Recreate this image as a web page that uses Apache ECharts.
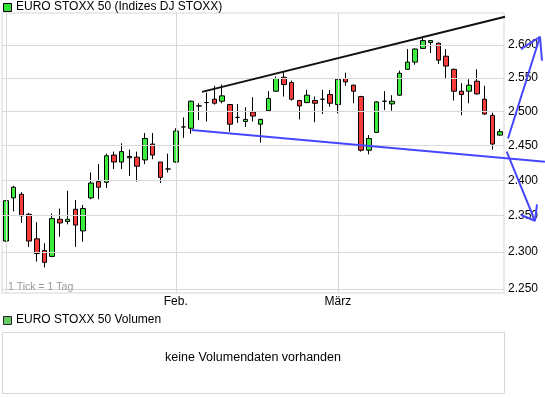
<!DOCTYPE html>
<html>
<head>
<meta charset="utf-8">
<script src="https://cdn.jsdelivr.net/npm/echarts@6/dist/echarts.min.js"></script>
<style>
html,body{margin:0;padding:0;background:#fff;}
#c{width:545px;height:398px;}
</style>
</head>
<body>
<div id="c"></div>
<script>
// ---- data ----
const categories = [
 '02.01.','03.01.','04.01.','05.01.','06.01.','09.01.','10.01.','11.01.','12.01.','13.01.','16.01.','17.01.','18.01.','19.01.','20.01.','23.01.','24.01.','25.01.','26.01.','27.01.','30.01.','31.01.',
 '01.02.','02.02.','03.02.','06.02.','07.02.','08.02.','09.02.','10.02.','13.02.','14.02.','15.02.','16.02.','17.02.','20.02.','21.02.','22.02.','23.02.','24.02.','27.02.','28.02.','29.02.',
 '01.03.','02.03.','05.03.','06.03.','07.03.','08.03.','09.03.','12.03.','13.03.','14.03.','15.03.','16.03.','19.03.','20.03.','21.03.','22.03.','23.03.','26.03.','27.03.','28.03.','29.03.','30.03.'
];
const openVals  = [2315,2375,2380,2352,2318,2302,2294,2345,2342,2359,2329,2375,2398,2397,2436,2426,2434,2433,2429,2452,2426,2416,2426,2477,2475,2508,2513,2518,2515,2510,2491,2485,2499,2481,2501,2530,2551,2543,2516,2513,2516,2518,2525,2510,2549,2539,2522,2443,2469,2515,2511,2524,2563,2574,2595,2604,2603,2583,2563,2530,2530,2545,2518,2494,2465];
const closeVals = [2371,2390,2350,2315,2298,2286,2346,2340,2345,2337,2360,2396,2390,2435,2426,2441,2432,2420,2460,2436,2404,2416,2471,2477,2515,2508,2513,2512,2523,2481,2491,2488,2493,2488,2519,2549,2540,2518,2508,2524,2512,2518,2512,2548,2544,2530,2443,2460,2514,2515,2515,2557,2574,2594,2607,2607,2577,2568,2530,2525,2539,2526,2496,2452,2470];
const lowVals   = [2314,2356,2340,2307,2287,2279,2293,2321,2338,2307,2314,2373,2373,2389,2416,2416,2406,2398,2423,2430,2396,2411,2425,2461,2467,2487,2485,2510,2512,2470,2483,2477,2485,2454,2500,2529,2522,2516,2488,2512,2484,2496,2507,2497,2538,2512,2441,2437,2468,2502,2501,2523,2562,2570,2594,2588,2571,2549,2516,2494,2512,2525,2495,2444,2464];
const highVals  = [2372,2392,2383,2354,2341,2312,2353,2360,2385,2372,2365,2411,2423,2438,2441,2453,2444,2441,2468,2468,2426,2438,2475,2491,2516,2512,2528,2538,2540,2511,2511,2506,2521,2489,2530,2552,2559,2546,2517,2532,2522,2532,2532,2549,2558,2540,2523,2465,2515,2530,2524,2561,2594,2595,2612,2608,2604,2594,2564,2542,2548,2563,2538,2498,2474];

const yTicks = [2250, 2300, 2350, 2400, 2450, 2500, 2550, 2600];
const monthStartIdx = [0, 22, 43];
const monthNames = ['', 'Feb.', 'März'];

// drawn annotations (x = trading-day index, y = index points)
const resistanceLine = [[25.4, 2529], [64.63, 2644]];
const supportLine    = [[24.06, 2472.5], [69.8, 2426.5]];
const arrowUp        = [[65.02, 2460], [69.16, 2613]];
const arrowUpHead    = [[66.70, 2594], [69.16, 2613], [69.42, 2576]];
const arrowDown      = [[64.85, 2441], [68.51, 2343]];
const arrowDownHead  = [[66.70, 2351], [68.51, 2343], [68.77, 2366]];

// ---- chart ----
const FONT = 'Liberation Sans, Arial, sans-serif';
const candleData = openVals.map((o, i) => [o, closeVals[i], lowVals[i], highVals[i]]);
const fmt = v => String(Math.round(v)).replace(/(\d)(\d{3})$/, '$1.$2');

const Y_MIN = 2244.8, Y_MAX = 2650;
const PLOT_W = 502, N = categories.length;
const ANNOT_W = 543;
const annotXMax = -0.5 + ANNOT_W * N / PLOT_W;

const gridLines = [];
yTicks.forEach(v => gridLines.push({ yAxis: v, label: { show: true, formatter: fmt(v) } }));
monthStartIdx.forEach(i => gridLines.push({ xAxis: i, label: { show: false } }));

function annot(data, color) {
  return {
    type: 'line', xAxisIndex: 2, yAxisIndex: 1, data: data,
    symbol: 'none', clip: false, silent: true, z: 5,
    lineStyle: { color: color, width: 2 }, animation: false
  };
}

const chart = echarts.init(document.getElementById('c'), null, { renderer: 'canvas' });
chart.setOption({
  backgroundColor: '#ffffff',
  animation: false,
  textStyle: { fontFamily: FONT },
  grid: [
    { left: 2, top: 13, width: PLOT_W, height: 280, show: true, borderColor: '#d6d6d6', borderWidth: 1, backgroundColor: '#fff' },
    { left: 2, top: 13, width: ANNOT_W, height: 280, show: false }
  ],
  xAxis: [
    {
      type: 'category', data: categories, boundaryGap: true, gridIndex: 0,
      axisLine: { show: false }, axisTick: { show: false }, splitLine: { show: false },
      axisLabel: {
        interval: (idx) => monthStartIdx.indexOf(idx) >= 0 && monthNames[monthStartIdx.indexOf(idx)] !== '',
        formatter: (val, idx) => { const k = monthStartIdx.indexOf(idx); return k >= 0 ? monthNames[k] : ''; },
        color: '#000', fontSize: 12, fontFamily: FONT, margin: 3, hideOverlap: false
      }
    },
    { type: 'value', gridIndex: 0, min: -0.5, max: N - 0.5, show: false },
    { type: 'value', gridIndex: 1, min: -0.5, max: annotXMax, show: false }
  ],
  yAxis: [
    {
      type: 'log', logBase: 10, min: Y_MIN, max: Y_MAX, gridIndex: 0,
      axisLine: { show: false }, axisTick: { show: false }, axisLabel: { show: false }, splitLine: { show: false }
    },
    {
      type: 'log', logBase: 10, min: Y_MIN, max: Y_MAX, gridIndex: 1, show: false,
      axisLine: { show: false }, axisTick: { show: false }, axisLabel: { show: false }, splitLine: { show: false }
    }
  ],
  graphic: [
    { type: 'rect', left: 3, top: 3, shape: { width: 8, height: 8 }, style: { fill: '#33e333', stroke: '#000', lineWidth: 1 } },
    { type: 'text', left: 16, top: 1, style: { text: 'EURO STOXX 50 (Indizes DJ STOXX)', font: '12px ' + FONT, fill: '#000' } },
    { type: 'text', left: 8, top: 282, z: 10, style: { text: '1 Tick = 1 Tag', font: '10.5px ' + FONT, fill: '#999' } },
    { type: 'rect', left: 3, top: 316, shape: { width: 8, height: 8 }, style: { fill: '#66cc66', stroke: '#222', lineWidth: 1 } },
    { type: 'text', left: 16, top: 314, style: { text: 'EURO STOXX 50 Volumen', font: '12px ' + FONT, fill: '#000' } },
    { type: 'rect', shape: { x: 2.5, y: 332.5, width: 502, height: 61 }, style: { fill: '#fff', stroke: '#d6d6d6', lineWidth: 1 } },
    { type: 'text', x: 253, y: 358, style: { text: 'keine Volumendaten vorhanden', font: '12.5px ' + FONT, fill: '#000', align: 'center', verticalAlign: 'middle' } }
  ],
  series: [
    {
      type: 'line', xAxisIndex: 1, yAxisIndex: 0, data: [], z: 1, silent: true,
      markLine: {
        silent: true, symbol: 'none', animation: false,
        lineStyle: { color: '#d9d9d9', width: 1, type: 'solid' },
        label: { position: 'end', distance: 4, color: '#000', fontSize: 12, fontFamily: FONT },
        emphasis: { disabled: true },
        data: gridLines
      }
    },
    {
      type: 'candlestick', xAxisIndex: 0, yAxisIndex: 0, data: candleData, z: 3,
      barWidth: 5, silent: true,
      itemStyle: {
        color: '#3ded3d', color0: '#f73c3c',
        borderColor: '#000', borderColor0: '#000', borderColorDoji: '#000', borderWidth: 1
      }
    },
    annot(resistanceLine, '#111111'),
    annot(supportLine, '#4646ff'),
    annot(arrowUp, '#4646ff'),
    annot(arrowUpHead, '#4646ff'),
    annot(arrowDown, '#4646ff'),
    annot(arrowDownHead, '#4646ff')
  ]
});
</script>
</body>
</html>
